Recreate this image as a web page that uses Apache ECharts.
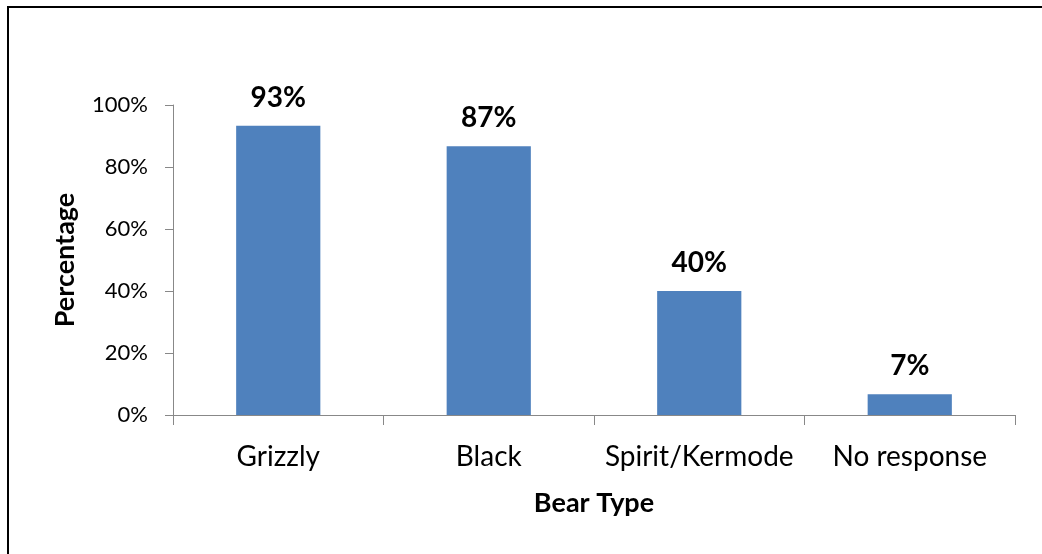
<!DOCTYPE html>
<html>
<head>
<meta charset="utf-8">
<style>html,body{margin:0;padding:0;background:#fff;}#chart{width:1042px;height:554px;}</style>
<script src="https://cdn.jsdelivr.net/npm/echarts@6/dist/echarts.min.js"></script>
</head>
<body>
<div id="chart"></div>
<script>
const categories = ['Grizzly', 'Black', 'Spirit/Kermode', 'No response'];
const values = [93.3, 86.7, 40, 6.7];
const yTicks = [0, 20, 40, 60, 80, 100];
const FONT = 'Lato, "Open Sans", sans-serif';

const chart = echarts.init(document.getElementById('chart'), null, {renderer: 'canvas'});
chart.setOption({
  animation: false,
  backgroundColor: '#fff',
  grid: {left: 173, right: 27, top: 105, bottom: 139, containLabel: false},
  graphic: [{
    type: 'polyline',
    shape: {points: [[8, 554], [8, 7], [1042, 7]]},
    style: {stroke: '#000', lineWidth: 2, fill: null},
    silent: true
  }],
  xAxis: {
    type: 'category',
    data: categories,
    name: 'Bear Type',
    nameLocation: 'middle',
    nameGap: 75,
    nameTextStyle: {fontFamily: FONT, fontSize: 27, fontWeight: 'bold', color: '#000'},
    axisLine: {lineStyle: {color: '#888', width: 1}},
    axisTick: {show: true, length: 10, lineStyle: {color: '#888'}},
    axisLabel: {fontFamily: FONT, fontSize: 28, color: '#000', margin: 28, interval: 0}
  },
  yAxis: {
    type: 'value',
    min: 0, max: 100, interval: 20,
    name: 'Percentage',
    nameLocation: 'middle',
    nameGap: 94,
    nameRotate: 90,
    nameTextStyle: {fontFamily: FONT, fontSize: 27, fontWeight: 'bold', color: '#000'},
    splitLine: {show: false},
    axisLine: {show: true, lineStyle: {color: '#888', width: 1}},
    axisTick: {show: true, length: 8, lineStyle: {color: '#888'}},
    axisLabel: {
      fontFamily: FONT, fontSize: 22, color: '#000', margin: 25,
      formatter: v => yTicks.includes(v) ? v + '%' : ''
    }
  },
  series: [{
    type: 'bar',
    data: values,
    barCategoryGap: '60%',
    itemStyle: {color: '#4F81BD'},
    label: {
      show: true, position: 'top', distance: 14,
      fontFamily: FONT, fontSize: 28, fontWeight: 'bold', color: '#000',
      formatter: p => Math.round(p.value) + '%'
    }
  }]
});
</script>
</body>
</html>
